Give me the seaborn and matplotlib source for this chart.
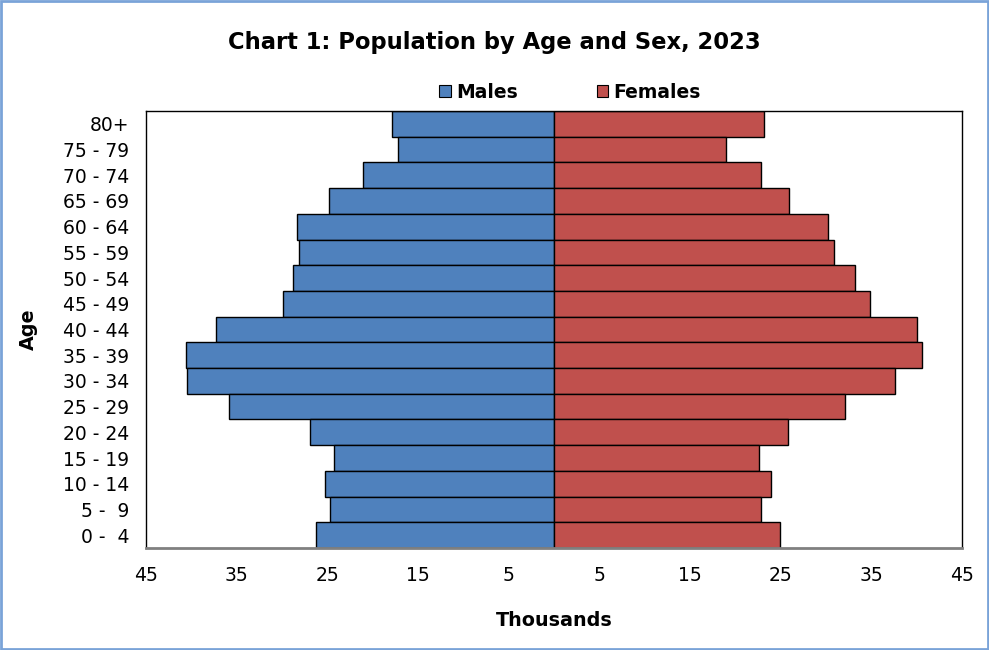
import matplotlib
matplotlib.use("Agg")
import matplotlib.pyplot as plt
import seaborn as sns
import pandas as pd
from matplotlib.patches import Rectangle, Patch

age_groups = ["0 -  4", "5 -  9", "10 - 14", "15 - 19", "20 - 24", "25 - 29", "30 - 34",
              "35 - 39", "40 - 44", "45 - 49", "50 - 54", "55 - 59", "60 - 64", "65 - 69",
              "70 - 74", "75 - 79", "80+"]
males = [26.2, 24.7, 25.3, 24.3, 26.9, 35.8, 40.5, 40.6, 37.3, 29.9, 28.8, 28.1, 28.3,
         24.8, 21.1, 17.2, 17.9]
females = [24.9, 22.8, 23.9, 22.6, 25.8, 32.1, 37.6, 40.6, 40.0, 34.9, 33.2, 30.9, 30.2,
           25.9, 22.8, 19.0, 23.2]
x_ticks = [-45, -35, -25, -15, -5, 5, 15, 25, 35, 45]

male_color = "#4F81BD"
female_color = "#C0504D"

df = pd.DataFrame({
    "Age": age_groups * 2,
    "Value": [-v for v in males] + females,
    "Sex": ["Males"] * len(males) + ["Females"] * len(females),
})

sns.set_style("white")
plt.rcParams["font.family"] = ["DejaVu Sans"]
for k in ["text.color", "axes.labelcolor", "xtick.color", "ytick.color"]:
    plt.rcParams[k] = "black"

fig = plt.figure(figsize=(9.89, 6.5), dpi=100)
ax = fig.add_axes([0.1476, 0.1569, 0.8251, 0.6723])

sns.barplot(data=df, x="Value", y="Age", hue="Sex", order=age_groups[::-1],
            hue_order=["Males", "Females"], palette=[male_color, female_color],
            saturation=1.0, dodge=False, width=1.0, orient="h", edgecolor="black",
            linewidth=1.0, ax=ax, legend=False)

ax.set_xlim(-45, 45)
ax.set_xticks(x_ticks)
ax.set_xticklabels([str(abs(t)) for t in x_ticks], fontsize=13.5)
ax.tick_params(axis="x", direction="out", length=5, width=1.5, color="#808080",
               labelcolor="black", pad=8)
ax.tick_params(axis="y", length=0, labelsize=13.5, pad=12, labelcolor="black")
for s in ["left", "top", "right"]:
    ax.spines[s].set_visible(True)
    ax.spines[s].set_color("black")
    ax.spines[s].set_linewidth(1.0)
ax.spines["bottom"].set_color("#808080")
ax.spines["bottom"].set_linewidth(2.0)

ax.set_xlabel("Thousands", fontsize=13.8, fontweight="bold", labelpad=19, color="black")
ax.set_ylabel("Age", fontsize=13.8, fontweight="bold", labelpad=18, color="black")

fig.text(0.5, 0.935, "Chart 1: Population by Age and Sex, 2023", ha="center", va="center",
         fontsize=16.3, fontweight="bold", color="black")

handles = [Patch(facecolor=male_color, edgecolor="black", linewidth=0.8),
           Patch(facecolor=female_color, edgecolor="black", linewidth=0.8)]
fig.legend(handles, ["Males", "Females"], loc="center", bbox_to_anchor=(0.5765, 0.858),
           ncol=2, frameon=False, prop={"weight": "bold", "size": 13.5},
           handlelength=0.6, handleheight=0.6, handletextpad=0.3, columnspacing=4.2)

fig.patches.append(Rectangle((0.001, 0.001), 0.998, 0.998, transform=fig.transFigure,
                             fill=False, edgecolor="#7AA3D8", linewidth=2.0))

fig.savefig("out.png", dpi=100)
